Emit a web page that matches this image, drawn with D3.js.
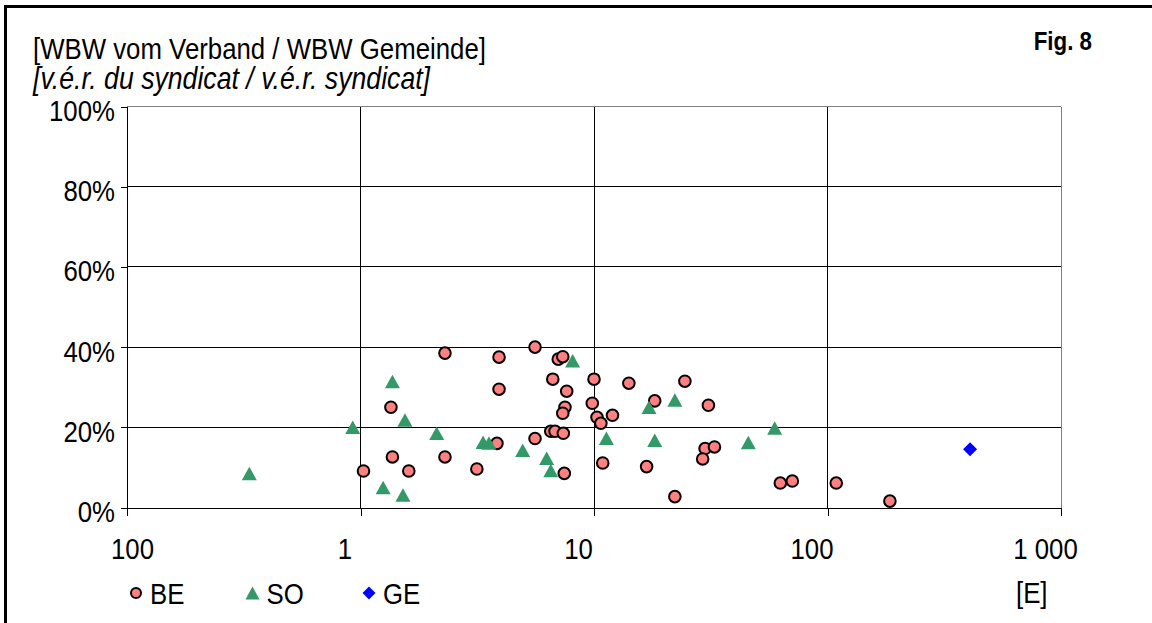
<!DOCTYPE html>
<html>
<head>
<meta charset="utf-8">
<script src="https://cdn.jsdelivr.net/npm/d3@7"></script>
<style>
  html, body { margin: 0; padding: 0; background: #fff; }
  svg { display: block; }
  text { font-family: "Liberation Sans", Arial, sans-serif; fill: #000; }
</style>
</head>
<body>
<svg id="chart" width="1152" height="623"></svg>
<script>
// Population served [E] and share of the association's replacement value, per canton
const beE = [2.30, 1.35, 1.37, 2.30, 1.03, 1.61, 3.92, 5.59, 7.03, 7.35,
             3.92, 6.66, 7.64, 10.0, 14.1, 24.5, 9.83, 7.51, 7.35, 18.2,
             30.9, 10.3, 12.0, 10.7, 6.53, 6.81, 7.39, 5.59, 3.84, 7.46,
             3.15, 10.9, 16.8, 22.2, 29.9, 32.8, 29.2, 62.8, 70.7, 109, 185];
const beShare = [0.385, 0.25, 0.126, 0.126, 0.091, 0.091, 0.375, 0.40, 0.37, 0.376,
                 0.295, 0.32, 0.29, 0.32, 0.31, 0.315, 0.26, 0.25, 0.235, 0.266,
                 0.255, 0.225, 0.23, 0.21, 0.19, 0.19, 0.185, 0.172, 0.16, 0.085,
                 0.096, 0.111, 0.102, 0.027, 0.147, 0.151, 0.121, 0.061, 0.066, 0.061, 0.016];

const soE = [1.37, 1.55, 0.926, 2.12, 0.334, 1.25, 1.52, 8.1, 17.2, 22.2,
             3.35, 3.55, 4.95, 6.27, 6.53, 11.3, 18.2, 45.8, 59.4];
const soShare = [0.314, 0.218, 0.20, 0.185, 0.085, 0.05, 0.031, 0.366, 0.25, 0.268,
                 0.163, 0.161, 0.143, 0.123, 0.092, 0.173, 0.168, 0.162, 0.198];

const geE = [408];
const geShare = [0.145];

const seriesNames = ["BE", "SO", "GE"];

const xTickValues = [0.1, 1, 10, 100, 1000];
const xTickLabels = ["100", "1", "10", "100", "1 000"];
const yTickValues = [0, 0.2, 0.4, 0.6, 0.8, 1];
const yTickLabels = ["0%", "20%", "40%", "60%", "80%", "100%"];

const NARROW = 0.86; // horizontal squeeze giving a condensed sans look

const svg = d3.select("#chart");

const x = d3.scaleLog().domain([0.1, 1000]).range([127, 1061]);
const y = d3.scaleLinear().domain([0, 1]).range([507.5, 106.5]);

// Place a text at (tx, ty) with a condensed horizontal scale
function condensed(sel, tx, ty) {
  return sel.attr("x", 0).attr("y", 0)
    .attr("transform", `translate(${tx},${ty}) scale(${NARROW},1)`);
}

// Outer frame (top and left edges)
svg.append("path")
  .attr("d", "M5.5,1000V6.5H1200")
  .attr("fill", "none")
  .attr("stroke", "#000")
  .attr("stroke-width", 3);

// Titles
condensed(svg.append("text"), 33, 59)
  .style("font-size", "30px")
  .text("[WBW vom Verband / WBW Gemeinde]");
condensed(svg.append("text"), 33, 89)
  .style("font-size", "31px").style("font-style", "italic")
  .text("[v.é.r. du syndicat / v.é.r. syndicat]");
condensed(svg.append("text"), 1092, 50)
  .attr("text-anchor", "end")
  .style("font-size", "26px").style("font-weight", "bold")
  .text("Fig. 8");

// Gridlines
const grid = svg.append("g").attr("shape-rendering", "crispEdges");
grid.selectAll("line.h")
  .data(yTickValues.filter(v => v > 0))
  .join("line")
  .attr("class", "h")
  .attr("x1", x.range()[0]).attr("x2", x.range()[1])
  .attr("y1", d => y(d)).attr("y2", d => y(d))
  .attr("stroke", d => d === 1 ? "#808080" : "#000");
grid.selectAll("line.v")
  .data(xTickValues.slice(1))
  .join("line")
  .attr("class", "v")
  .attr("x1", d => x(d)).attr("x2", d => x(d))
  .attr("y1", y(0)).attr("y2", y(1))
  .attr("stroke", d => d === 1000 ? "#808080" : "#000");

// Axes
const yAxis = svg.append("g")
  .attr("transform", `translate(${x.range()[0]},0)`)
  .attr("shape-rendering", "crispEdges")
  .call(d3.axisLeft(y).tickValues(yTickValues)
    .tickFormat((d, i) => yTickLabels[i]).tickSize(6).tickSizeOuter(0));
yAxis.selectAll("text")
  .attr("dy", null)
  .each(function () { condensed(d3.select(this), -12, 14); })
  .style("font-size", "30px");

const xAxis = svg.append("g")
  .attr("transform", `translate(0,${y(0)})`)
  .attr("shape-rendering", "crispEdges")
  .call(d3.axisBottom(x).tickValues(xTickValues)
    .tickFormat((d, i) => xTickLabels[i]).tickSize(8).tickSizeOuter(0));
xAxis.selectAll("text")
  .attr("dy", null)
  .each(function (d, i) { condensed(d3.select(this), i === 0 ? 5 : -16, 51.5); })
  .style("font-size", "30px");
svg.selectAll(".domain, .tick line").attr("stroke", "#000");
svg.selectAll(".tick text").attr("fill", "#000");
svg.selectAll("g").attr("font-family", null).attr("font-size", null);

// Marker shapes
const triPath = (w, h) => `M0,${-h / 2}L${w / 2},${h / 2}L${-w / 2},${h / 2}Z`;
const diaPath = (s) => `M0,${-s}L${s},0L0,${s}L${-s},0Z`;

// BE: circles
svg.append("g").selectAll("circle")
  .data(d3.zip(beE, beShare))
  .join("circle")
  .attr("cx", d => x(d[0])).attr("cy", d => y(d[1]))
  .attr("r", 5.8)
  .attr("fill", "#FF8080").attr("stroke", "#000").attr("stroke-width", 2);

// SO: triangles
svg.append("g").selectAll("path")
  .data(d3.zip(soE, soShare))
  .join("path")
  .attr("transform", d => `translate(${x(d[0])},${y(d[1])})`)
  .attr("d", triPath(15, 13.5))
  .attr("fill", "#339966");

// GE: diamonds
svg.append("g").selectAll("path")
  .data(d3.zip(geE, geShare))
  .join("path")
  .attr("transform", d => `translate(${x(d[0])},${y(d[1])})`)
  .attr("d", diaPath(7))
  .attr("fill", "#0000FF");

// Legend
const legend = svg.append("g").attr("transform", "translate(136,593)");
const items = legend.selectAll("g").data(seriesNames).join("g")
  .attr("transform", (d, i) => `translate(${i * 116.5},0)`);
items.each(function (d, i) {
  const g = d3.select(this);
  if (i === 0) {
    g.append("circle").attr("r", 5).attr("fill", "#FF8080")
      .attr("stroke", "#000").attr("stroke-width", 2);
  } else if (i === 1) {
    g.append("path").attr("d", triPath(14, 13)).attr("fill", "#339966");
  } else {
    g.append("path").attr("d", diaPath(6.5)).attr("fill", "#0000FF");
  }
  condensed(g.append("text"), 14, 10.5)
    .style("font-size", "30px").text(d);
});

// Unit label
condensed(svg.append("text"), 1016, 603)
  .style("font-size", "30px").text("[E]");
</script>
</body>
</html>
